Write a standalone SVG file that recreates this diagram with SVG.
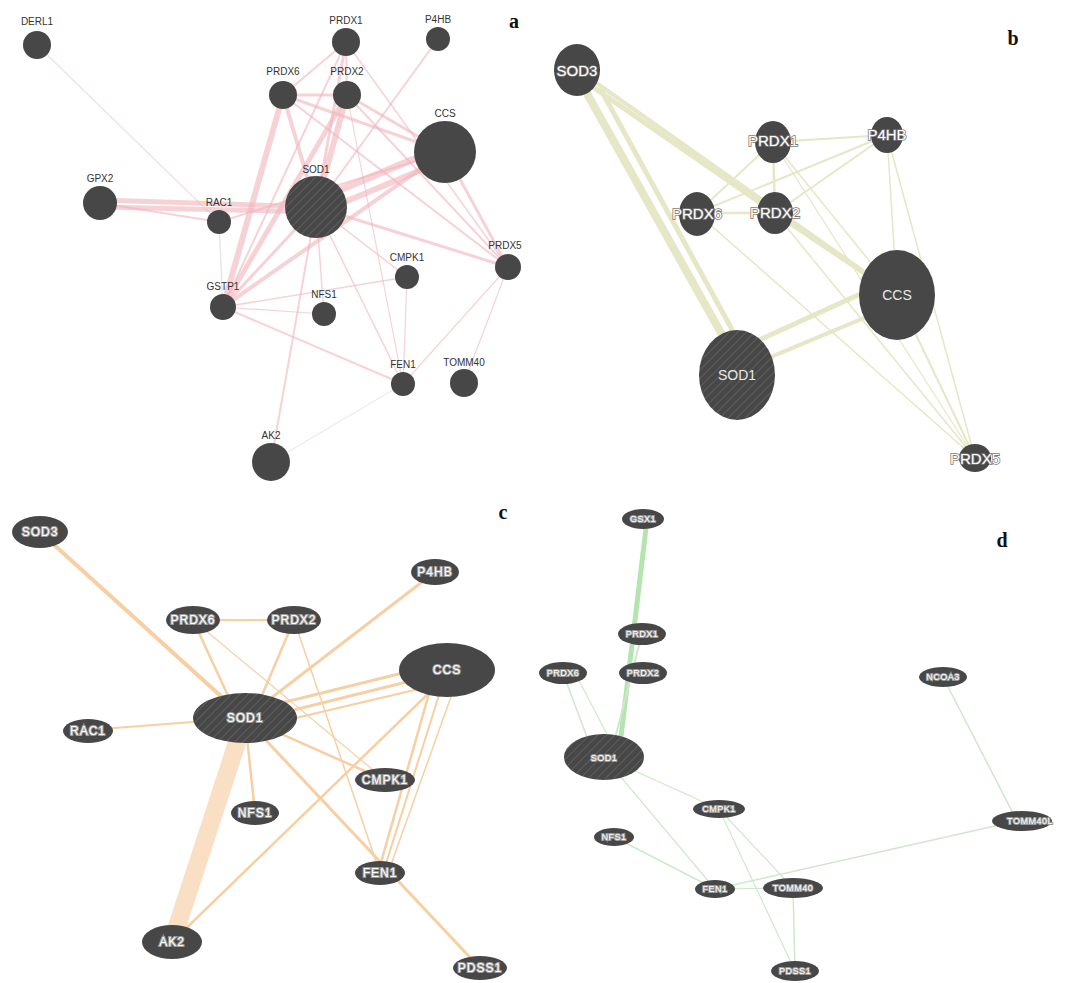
<svg xmlns="http://www.w3.org/2000/svg" width="1073" height="983" viewBox="0 0 1073 983">
<style>
.n{fill:#474747}
.h{fill:url(#hatch)}
.la{font-family:"Liberation Sans",Arial,sans-serif;font-size:10px;fill:#333;text-anchor:middle}
.lb{font-family:"Liberation Sans",Arial,sans-serif;font-size:15px;fill:#fff;stroke:#7a7a7a;stroke-width:1.6;paint-order:stroke;text-anchor:middle;dominant-baseline:central}
.lc{font-family:"Liberation Sans",Arial,sans-serif;font-size:12px;fill:#fff;stroke:#9a9a9a;stroke-width:2.2;paint-order:stroke;text-anchor:middle;dominant-baseline:central;letter-spacing:1px}
.ld{font-family:"Liberation Sans",Arial,sans-serif;font-size:9px;fill:#fff;stroke:#999;stroke-width:2;paint-order:stroke;text-anchor:middle;dominant-baseline:central;letter-spacing:0.5px}
.lin{font-family:"Liberation Sans",Arial,sans-serif;font-size:14px;fill:#e8e8e8;text-anchor:middle;dominant-baseline:central}
.pl{font-family:"Liberation Serif","Times New Roman",serif;font-weight:bold;font-size:20px;fill:#111;text-anchor:middle}
.ea{stroke:#f0b4bc;fill:none;stroke-opacity:0.6}
.eb{stroke:#e6e7c6;fill:none}
.ec{stroke:#f6cfa2;fill:none}
.ed{stroke:#cfe8cc;fill:none}
</style>
<defs>
<pattern id="hatch" patternUnits="userSpaceOnUse" width="6" height="6" patternTransform="rotate(45)">
<rect width="6" height="6" fill="#474747"/>
<line x1="0" y1="0" x2="0" y2="6" stroke="#5e5e5e" stroke-width="2"/>
</pattern>
</defs>
<rect width="1073" height="983" fill="#fff"/>

<g id="connectors">
<g class="ea">
<line x1="37" y1="45" x2="219" y2="222" stroke-width="1.5" stroke="#e8d0d4"/>
<line x1="100" y1="200" x2="316" y2="207" stroke-width="5"/>
<line x1="100" y1="207" x2="316" y2="212" stroke-width="5"/>
<line x1="100" y1="203" x2="219" y2="222" stroke-width="2"/>
<line x1="283" y1="95" x2="223" y2="307" stroke-width="6"/>
<line x1="347" y1="95" x2="223" y2="307" stroke-width="5"/>
<line x1="346" y1="42" x2="223" y2="307" stroke-width="2"/>
<line x1="316" y1="207" x2="223" y2="307" stroke-width="3"/>
<line x1="445" y1="152" x2="223" y2="307" stroke-width="4"/>
<line x1="283" y1="95" x2="316" y2="207" stroke-width="4"/>
<line x1="347" y1="95" x2="316" y2="207" stroke-width="6"/>
<line x1="346" y1="42" x2="316" y2="207" stroke-width="3"/>
<line x1="346" y1="42" x2="283" y2="95" stroke-width="2"/>
<line x1="283" y1="95" x2="347" y2="95" stroke-width="3"/>
<line x1="346" y1="42" x2="347" y2="95" stroke-width="2"/>
<line x1="316" y1="200" x2="445" y2="146" stroke-width="7"/>
<line x1="316" y1="214" x2="445" y2="160" stroke-width="6"/>
<line x1="283" y1="95" x2="445" y2="152" stroke-width="3"/>
<line x1="347" y1="95" x2="445" y2="152" stroke-width="3"/>
<line x1="346" y1="42" x2="508" y2="267" stroke-width="1.5"/>
<line x1="347" y1="95" x2="508" y2="267" stroke-width="2"/>
<line x1="445" y1="152" x2="508" y2="267" stroke-width="3"/>
<line x1="316" y1="207" x2="508" y2="267" stroke-width="3"/>
<line x1="283" y1="95" x2="508" y2="267" stroke-width="2"/>
<line x1="438" y1="39" x2="316" y2="207" stroke-width="2"/>
<line x1="219" y1="222" x2="445" y2="152" stroke-width="2"/>
<line x1="219" y1="222" x2="223" y2="307" stroke-width="1.5" stroke="#e0d4d6"/>
<line x1="223" y1="307" x2="407" y2="277" stroke-width="1.5"/>
<line x1="223" y1="307" x2="324" y2="314" stroke-width="1.2"/>
<line x1="223" y1="307" x2="403" y2="384" stroke-width="2"/>
<line x1="316" y1="207" x2="324" y2="314" stroke-width="1.5"/>
<line x1="316" y1="207" x2="403" y2="384" stroke-width="1.5"/>
<line x1="316" y1="207" x2="271" y2="462" stroke-width="2"/>
<line x1="316" y1="207" x2="407" y2="277" stroke-width="1.5"/>
<line x1="271" y1="462" x2="403" y2="384" stroke-width="1.2" stroke="#e8d8da"/>
<line x1="508" y1="267" x2="403" y2="384" stroke-width="1.2"/>
<line x1="508" y1="267" x2="464" y2="383" stroke-width="1.2"/>
<line x1="407" y1="277" x2="403" y2="384" stroke-width="1.2"/>
<line x1="347" y1="95" x2="403" y2="384" stroke-width="1.2"/>
</g>
<g class="eb">
<line x1="585" y1="90" x2="725" y2="340" stroke-width="8"/>
<line x1="600" y1="88" x2="735" y2="335" stroke-width="5"/>
<line x1="590" y1="85" x2="775" y2="213" stroke-width="5"/>
<line x1="595" y1="82" x2="897" y2="295" stroke-width="4"/>
<line x1="773" y1="142" x2="887" y2="135" stroke-width="2"/>
<line x1="773" y1="142" x2="697" y2="213" stroke-width="2"/>
<line x1="773" y1="142" x2="775" y2="213" stroke-width="2.5"/>
<line x1="773" y1="142" x2="897" y2="295" stroke-width="1.5"/>
<line x1="887" y1="135" x2="697" y2="213" stroke-width="2"/>
<line x1="887" y1="135" x2="775" y2="213" stroke-width="2"/>
<line x1="887" y1="135" x2="975" y2="458" stroke-width="1.5"/>
<line x1="887" y1="135" x2="897" y2="295" stroke-width="1.5"/>
<line x1="697" y1="213" x2="775" y2="213" stroke-width="2.5"/>
<line x1="697" y1="213" x2="975" y2="458" stroke-width="1.5"/>
<line x1="775" y1="213" x2="897" y2="295" stroke-width="5"/>
<line x1="775" y1="213" x2="975" y2="458" stroke-width="1.5"/>
<line x1="737" y1="350" x2="880" y2="285" stroke-width="5"/>
<line x1="740" y1="370" x2="895" y2="305" stroke-width="4"/>
<line x1="897" y1="295" x2="975" y2="458" stroke-width="2"/>
<line x1="773" y1="142" x2="975" y2="458" stroke-width="1.2"/>
</g>
<g class="ec">
<line x1="40" y1="532" x2="245" y2="718" stroke-width="4"/>
<line x1="245" y1="718" x2="172" y2="942" stroke-width="18" stroke="#f9dfc4"/>
<line x1="193" y1="620" x2="294" y2="620" stroke-width="2"/>
<line x1="193" y1="620" x2="230" y2="700" stroke-width="2.5"/>
<line x1="294" y1="620" x2="260" y2="700" stroke-width="2.5"/>
<line x1="435" y1="572" x2="245" y2="718" stroke-width="3"/>
<line x1="245" y1="712" x2="447" y2="662" stroke-width="3"/>
<line x1="245" y1="722" x2="447" y2="672" stroke-width="3"/>
<line x1="245" y1="730" x2="440" y2="684" stroke-width="2"/>
<line x1="88" y1="730" x2="245" y2="718" stroke-width="2"/>
<line x1="245" y1="718" x2="255" y2="813" stroke-width="2.5"/>
<line x1="245" y1="718" x2="385" y2="780" stroke-width="2.5"/>
<line x1="245" y1="718" x2="480" y2="968" stroke-width="3"/>
<line x1="172" y1="942" x2="432" y2="690" stroke-width="2.5"/>
<line x1="430" y1="690" x2="378" y2="873" stroke-width="2.5"/>
<line x1="440" y1="692" x2="383" y2="873" stroke-width="2"/>
<line x1="452" y1="694" x2="388" y2="873" stroke-width="1.5"/>
<line x1="294" y1="620" x2="380" y2="873" stroke-width="1.5"/>
<line x1="193" y1="620" x2="385" y2="780" stroke-width="1.2"/>
</g>
<g class="ed">
<line x1="647" y1="520" x2="620" y2="745" stroke-width="5" stroke="#b6e4b0"/>
<line x1="642" y1="634" x2="612" y2="750" stroke-width="2"/>
<line x1="563" y1="673" x2="590" y2="745" stroke-width="1.5"/>
<line x1="575" y1="673" x2="610" y2="740" stroke-width="1.2"/>
<line x1="604" y1="757" x2="719" y2="809" stroke-width="1.2"/>
<line x1="604" y1="757" x2="715" y2="889" stroke-width="1.2"/>
<line x1="614" y1="837" x2="715" y2="889" stroke-width="1.5"/>
<line x1="715" y1="889" x2="793" y2="888" stroke-width="1.2"/>
<line x1="715" y1="889" x2="1017" y2="821" stroke-width="1.5"/>
<line x1="719" y1="809" x2="793" y2="888" stroke-width="1.2"/>
<line x1="719" y1="809" x2="795" y2="971" stroke-width="1.2"/>
<line x1="793" y1="888" x2="795" y2="971" stroke-width="1.5"/>
<line x1="943" y1="677" x2="1017" y2="821" stroke-width="1.5"/>
</g>
</g>

<text class="pl" x="514" y="28">a</text>
<text class="pl" x="1013" y="45">b</text>
<text class="pl" x="503" y="519">c</text>
<text class="pl" x="1002" y="547">d</text>

<g id="a-DERL1"><circle class="n" cx="37" cy="45" r="14"/><text class="la" x="37" y="25">DERL1</text></g>
<g id="a-PRDX1"><circle class="n" cx="346" cy="42" r="14"/><text class="la" x="346" y="24">PRDX1</text></g>
<g id="a-P4HB"><circle class="n" cx="438" cy="39" r="12"/><text class="la" x="438" y="23">P4HB</text></g>
<g id="a-PRDX6"><circle class="n" cx="283" cy="95" r="14"/><text class="la" x="283" y="75">PRDX6</text></g>
<g id="a-PRDX2"><circle class="n" cx="347" cy="95" r="14"/><text class="la" x="347" y="75">PRDX2</text></g>
<g id="a-CCS"><circle class="n" cx="445" cy="152" r="31"/><text class="la" x="445" y="117">CCS</text></g>
<g id="a-GPX2"><circle class="n" cx="100" cy="203" r="17"/><text class="la" x="100" y="182">GPX2</text></g>
<g id="a-RAC1"><circle class="n" cx="219" cy="222" r="12"/><text class="la" x="219" y="206">RAC1</text></g>
<g id="a-SOD1"><circle class="h" cx="316" cy="207" r="31"/><text class="la" x="316" y="173">SOD1</text></g>
<g id="a-PRDX5"><circle class="n" cx="508" cy="267" r="13"/><text class="la" x="505" y="249">PRDX5</text></g>
<g id="a-CMPK1"><circle class="n" cx="407" cy="277" r="12"/><text class="la" x="407" y="261">CMPK1</text></g>
<g id="a-GSTP1"><circle class="n" cx="223" cy="307" r="13"/><text class="la" x="223" y="290">GSTP1</text></g>
<g id="a-NFS1"><circle class="n" cx="324" cy="314" r="12"/><text class="la" x="324" y="298">NFS1</text></g>
<g id="a-FEN1"><circle class="n" cx="403" cy="384" r="12"/><text class="la" x="403" y="368">FEN1</text></g>
<g id="a-TOMM40"><circle class="n" cx="464" cy="383" r="14"/><text class="la" x="464" y="366">TOMM40</text></g>
<g id="a-AK2"><circle class="n" cx="271" cy="462" r="19"/><text class="la" x="271" y="439">AK2</text></g>

<g id="b-SOD3"><ellipse class="n" cx="577" cy="70" rx="23" ry="26"/><text class="lb" x="577" y="70">SOD3</text></g>
<g id="b-PRDX1"><ellipse class="n" cx="773" cy="142" rx="18" ry="21"/><text class="lb" x="773" y="140">PRDX1</text></g>
<g id="b-P4HB"><ellipse class="n" cx="887" cy="135" rx="16" ry="18"/><text class="lb" x="887" y="134">P4HB</text></g>
<g id="b-PRDX6"><ellipse class="n" cx="697" cy="214" rx="18" ry="22"/><text class="lb" x="697" y="213">PRDX6</text></g>
<g id="b-PRDX2"><ellipse class="n" cx="775" cy="213" rx="18" ry="21"/><text class="lb" x="775" y="212">PRDX2</text></g>
<g id="b-CCS"><ellipse class="n" cx="897" cy="295" rx="38" ry="45"/><text class="lin" x="897" y="295">CCS</text></g>
<g id="b-SOD1"><ellipse class="h" cx="737" cy="375" rx="38" ry="45"/><text class="lin" x="737" y="375">SOD1</text></g>
<g id="b-PRDX5"><ellipse class="n" cx="975" cy="458" rx="16" ry="14"/><text class="lb" x="975" y="458">PRDX5</text></g>

<g id="c-SOD3"><ellipse class="n" cx="40" cy="532" rx="28" ry="16"/><text class="lc" x="40" y="532">SOD3</text></g>
<g id="c-PRDX6"><ellipse class="n" cx="193" cy="620" rx="27" ry="14"/><text class="lc" x="193" y="620">PRDX6</text></g>
<g id="c-PRDX2"><ellipse class="n" cx="294" cy="620" rx="27" ry="14"/><text class="lc" x="294" y="620">PRDX2</text></g>
<g id="c-P4HB"><ellipse class="n" cx="435" cy="572" rx="24" ry="13"/><text class="lc" x="435" y="572">P4HB</text></g>
<g id="c-CCS"><ellipse class="n" cx="447" cy="670" rx="48" ry="27"/><text class="lc" x="447" y="670">CCS</text></g>
<g id="c-SOD1"><ellipse class="h" cx="245" cy="718" rx="52" ry="25"/><text class="lc" x="245" y="718">SOD1</text></g>
<g id="c-RAC1"><ellipse class="n" cx="88" cy="731" rx="25" ry="12"/><text class="lc" x="88" y="731">RAC1</text></g>
<g id="c-CMPK1"><ellipse class="n" cx="385" cy="780" rx="30" ry="12"/><text class="lc" x="385" y="780">CMPK1</text></g>
<g id="c-NFS1"><ellipse class="n" cx="255" cy="813" rx="24" ry="12"/><text class="lc" x="255" y="813">NFS1</text></g>
<g id="c-FEN1"><ellipse class="n" cx="380" cy="873" rx="25" ry="12"/><text class="lc" x="380" y="873">FEN1</text></g>
<g id="c-AK2"><ellipse class="n" cx="172" cy="942" rx="30" ry="17"/><text class="lc" x="172" y="942">AK2</text></g>
<g id="c-PDSS1"><ellipse class="n" cx="480" cy="968" rx="27" ry="12"/><text class="lc" x="480" y="968">PDSS1</text></g>

<g id="d-GSX1"><ellipse class="n" cx="643" cy="519" rx="21" ry="10"/><text class="ld" x="643" y="519">GSX1</text></g>
<g id="d-PRDX1"><ellipse class="n" cx="642" cy="634" rx="24" ry="11"/><text class="ld" x="642" y="634">PRDX1</text></g>
<g id="d-PRDX6"><ellipse class="n" cx="563" cy="673" rx="24" ry="11"/><text class="ld" x="563" y="673">PRDX6</text></g>
<g id="d-PRDX2"><ellipse class="n" cx="643" cy="673" rx="24" ry="11"/><text class="ld" x="643" y="673">PRDX2</text></g>
<g id="d-NCOA3"><ellipse class="n" cx="943" cy="677" rx="24" ry="10"/><text class="ld" x="943" y="677">NCOA3</text></g>
<g id="d-SOD1"><ellipse class="h" cx="604" cy="757" rx="40" ry="23"/><text class="ld" x="604" y="758">SOD1</text></g>
<g id="d-CMPK1"><ellipse class="n" cx="719" cy="809" rx="26" ry="9"/><text class="ld" x="719" y="809">CMPK1</text></g>
<g id="d-NFS1"><ellipse class="n" cx="614" cy="837" rx="20" ry="9"/><text class="ld" x="614" y="837">NFS1</text></g>
<g id="d-FEN1"><ellipse class="n" cx="715" cy="889" rx="20" ry="9"/><text class="ld" x="715" y="889">FEN1</text></g>
<g id="d-TOMM40"><ellipse class="n" cx="793" cy="888" rx="30" ry="10"/><text class="ld" x="793" y="888">TOMM40</text></g>
<g id="d-TOMM40L"><ellipse class="n" cx="1022" cy="821" rx="30" ry="10"/><text class="ld" x="1030" y="821">TOMM40L</text></g>
<g id="d-PDSS1"><ellipse class="n" cx="795" cy="971" rx="24" ry="10"/><text class="ld" x="795" y="971">PDSS1</text></g>
</svg>
